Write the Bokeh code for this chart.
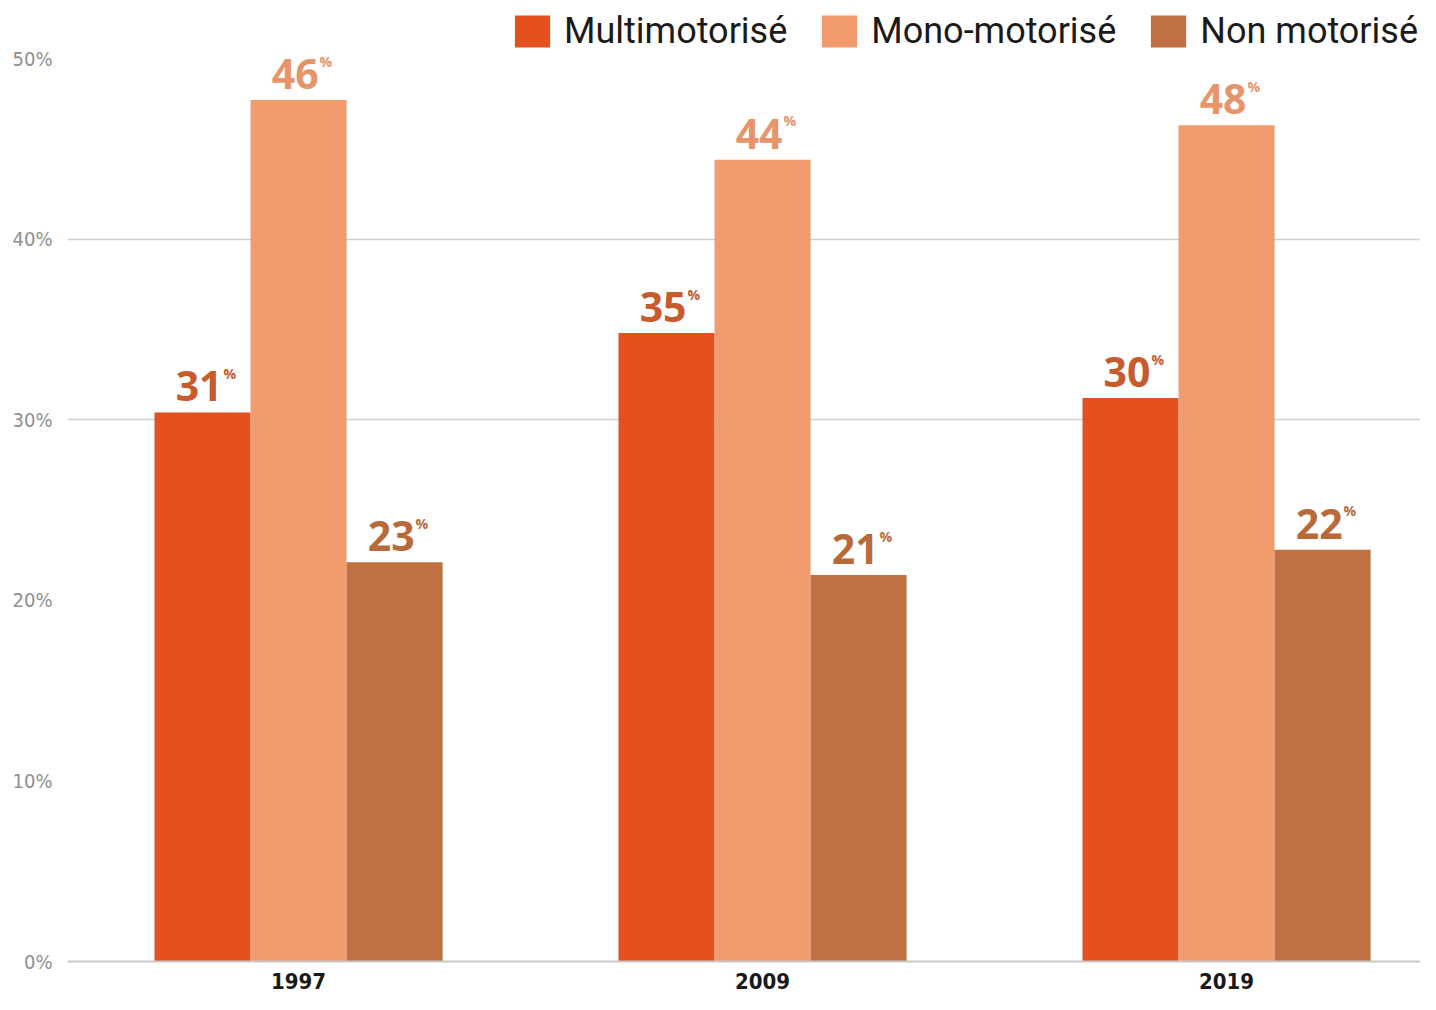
from bokeh.plotting import figure
from bokeh.models import ColumnDataSource, FixedTicker, Legend, LegendItem, Range1d
from bokeh.transform import dodge
from bokeh.core.properties import value
from bokeh.embed import file_html
from bokeh.resources import INLINE

years = ["1997", "2009", "2019"]
series = ["Multimotorisé", "Mono-motorisé", "Non motorisé"]
multi = [30.4, 34.8, 31.2]
mono = [47.7, 44.4, 46.3]
non = [22.1, 21.4, 22.8]
multi_labels = ["31", "35", "30"]
mono_labels = ["46", "44", "48"]
non_labels = ["23", "21", "22"]
y_ticks = [0, 10, 20, 30, 40, 50]
y_tick_labels = ["0%", "10%", "20%", "30%", "40%", "50%"]
grid_ticks = [30, 40]

colors = ["#e4511f", "#f29b6d", "#c07141"]
label_colors = ["#c85a2b", "#e8946a", "#b96a3b"]

xs = list(range(len(years)))
src = ColumnDataSource(dict(x=xs, multi=multi, mono=mono, non=non,
                            ml=multi_labels, mol=mono_labels, nl=non_labels))

W = 1420
H = 994
TOP = 8
BOTTOM = 961
p = figure(width=W, height=H, output_backend="svg", toolbar_location=None,
           x_range=Range1d(-0.498, 2.418),
           y_range=Range1d(0, (BOTTOM - TOP) / 18.06),
           min_border_left=67, min_border_right=0, min_border_top=TOP,
           min_border_bottom=H - BOTTOM)
p.outline_line_color = None
p.background_fill_color = "white"
p.border_fill_color = "white"

bw = 0.207
offsets = [-bw, 0.0, bw]
cols = ["multi", "mono", "non"]
labs = ["ml", "mol", "nl"]
renderers = []
for off, c, lab, col, lcol in zip(offsets, cols, labs, colors, label_colors):
    r = p.vbar(x=dodge("x", off), top=c, width=bw, bottom=0, source=src,
               fill_color=col, line_color=None)
    renderers.append(r)
    p.text(x=dodge("x", off), y=c, text=lab, source=src, text_align="right",
           text_baseline="alphabetic", x_offset=20, y_offset=-26,
           text_font=value("Open Sans"), text_font_style="bold",
           text_font_size="41px", text_color=lcol)
    p.text(x=dodge("x", off), y=c, text=value("%"), source=src, text_align="left",
           text_baseline="alphabetic", x_offset=21, y_offset=-39,
           text_font=value("Open Sans"), text_font_style="bold",
           text_font_size="14px", text_color=lcol)

# axes
p.yaxis.ticker = FixedTicker(ticks=y_ticks)
p.yaxis.major_label_overrides = {t: l for t, l in zip(y_ticks, y_tick_labels)}
p.yaxis.axis_line_color = None
p.yaxis.major_tick_line_color = None
p.yaxis.minor_tick_line_color = None
p.yaxis.major_label_text_font = "DejaVu Sans Condensed"
p.yaxis.major_label_text_font_size = "20px"
p.yaxis.major_label_text_color = "#8f8f8f"
p.yaxis.major_label_standoff = 9

p.xaxis.ticker = FixedTicker(ticks=xs)
p.xaxis.major_label_overrides = {x: y for x, y in zip(xs, years)}
p.xaxis.axis_line_color = "#c8c8c8"
p.xaxis.axis_line_width = 2
p.xaxis.major_tick_line_color = None
p.xaxis.minor_tick_line_color = None
p.xaxis.major_label_text_font = "DejaVu Sans Condensed"
p.xaxis.major_label_text_font_style = "bold"
p.xaxis.major_label_text_font_size = "22px"
p.xaxis.major_label_text_color = "#1a1a1a"
p.xaxis.major_label_standoff = 5

p.xgrid.grid_line_color = None
p.ygrid.ticker = FixedTicker(ticks=grid_ticks)
p.ygrid.grid_line_color = "#cfcfcf"
p.ygrid.grid_line_width = 1.5

legend = Legend(items=[LegendItem(label=s, renderers=[r]) for s, r in zip(series, renderers)],
                orientation="horizontal", location="top_right",
                glyph_width=44, glyph_height=40, label_standoff=10, spacing=30,
                label_text_font="Roboto", label_text_font_size="36px",
                label_text_color="#1a1a1a", border_line_color=None,
                background_fill_alpha=0, padding=0, margin=2,
                label_height=40)
p.add_layout(legend)

open("out.html", "w").write(file_html(p, INLINE))
